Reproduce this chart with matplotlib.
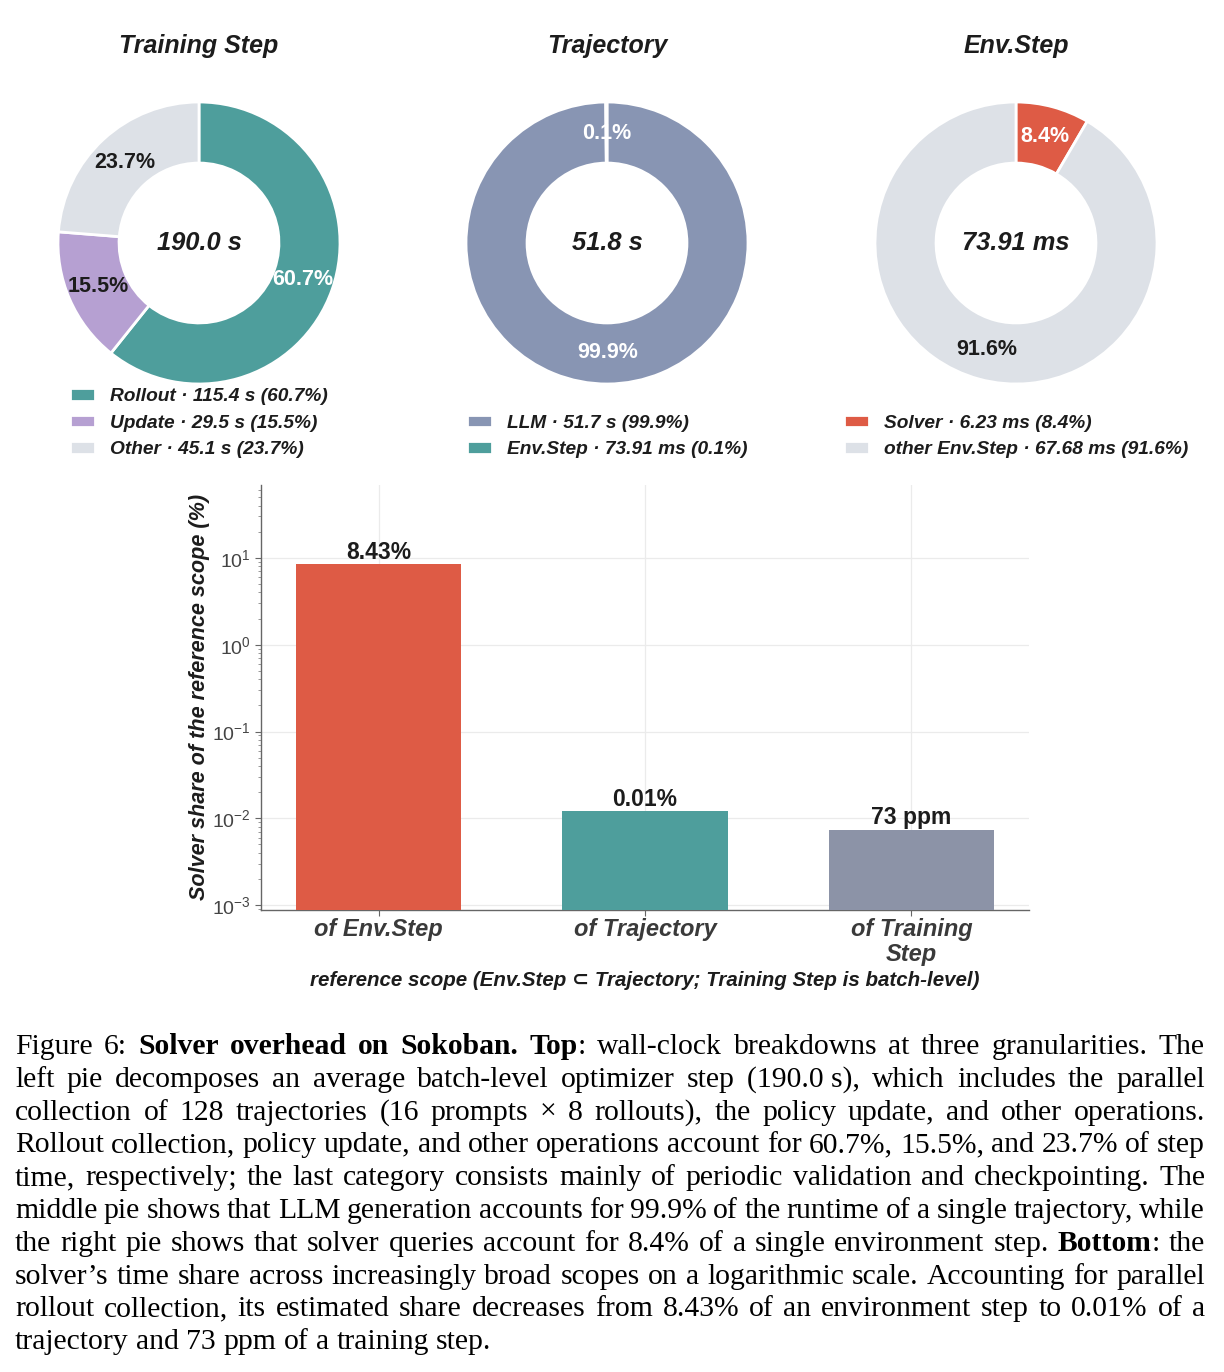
import matplotlib
matplotlib.use('Agg')
import matplotlib.pyplot as plt
import numpy as np
from matplotlib.ticker import LogLocator, NullFormatter

plt.rcParams['font.family'] = ['Liberation Sans', 'DejaVu Sans']
plt.rcParams['mathtext.fontset'] = 'custom'
plt.rcParams['mathtext.rm'] = 'Liberation Sans'
plt.rcParams['mathtext.it'] = 'Liberation Sans:italic'
plt.rcParams['mathtext.bf'] = 'Liberation Sans:bold'

# ---------------- data ----------------
pie_titles = ['Training Step', 'Trajectory', 'Env.Step']

train_labels = ['Rollout', 'Update', 'Other']
train_values = [115.4, 29.5, 45.1]          # seconds

traj_labels = ['LLM', 'Env.Step']
traj_values = [51.7, 0.07391]               # seconds

env_labels = ['Solver', 'other Env.Step']
env_values = [6.23, 67.68]                  # milliseconds

scope_labels = ['of Env.Step', 'of Trajectory', 'of Training\nStep']
solver_share = [8.43, 0.012, 0.0073]        # percent
share_text = ['8.43%', '0.01%', '73 ppm']

caption_lines = [
    "Figure 6: *Solver overhead on Sokoban.* *Top*: wall-clock breakdowns at three granularities. The",
    "left pie decomposes an average batch-level optimizer step (190.0~s), which includes the parallel",
    "collection of 128 trajectories (16 prompts × 8 rollouts), the policy update, and other operations.",
    "Rollout collection, policy update, and other operations account for 60.7%, 15.5%, and 23.7% of step",
    "time, respectively; the last category consists mainly of periodic validation and checkpointing. The",
    "middle pie shows that LLM generation accounts for 99.9% of the runtime of a single trajectory, while",
    "the right pie shows that solver queries account for 8.4% of a single environment step. *Bottom*: the",
    "solver\u2019s time share across increasingly broad scopes on a logarithmic scale. Accounting for parallel",
    "rollout collection, its estimated share decreases from 8.43% of an environment step to 0.01% of a",
    "trajectory and 73 ppm of a training step.",
]

# ---------------- styles ----------------
TEAL = '#4E9E9C'
PURPLE = '#B6A0D2'
LIGHT = '#DDE1E7'
SLATE = '#8895B3'
RED = '#DE5B45'
BARGREY = '#8C93A7'
DARK = '#1c1c1c'

W, H = 1224, 1372
fig = plt.figure(figsize=(W / 100, H / 100), dpi=100)
fig.patch.set_facecolor('white')

CY = 243
R = 141


def fmt_s(v):
    return f"{v:.1f} s" if v >= 1 else f"{v * 1000:.2f} ms"


def draw_pie(cx, title, labels, values, colors, txtcolors, center_txt, leg_labels):
    ax = fig.add_axes([(cx - R) / W, (H - (CY + R)) / H, 2 * R / W, 2 * R / H])
    wedges, texts, autotexts = ax.pie(
        values, colors=colors, startangle=90, counterclock=False,
        autopct='%1.1f%%', pctdistance=0.78, radius=1,
        wedgeprops=dict(width=0.433, edgecolor='white', linewidth=2))
    for t, c in zip(autotexts, txtcolors):
        t.set_color(c)
        t.set_fontsize(15.5)
        t.set_fontweight('bold')
    ax.set_xlim(-1.0, 1.0)
    ax.set_ylim(-1.0, 1.0)
    ax.set_aspect('equal')
    ax.text(0, 0, center_txt, ha='center', va='center', fontsize=18.4,
            fontweight='bold', fontstyle='italic', color=DARK)
    fig.text(cx / W, (H - 46) / H, title, ha='center', va='center', fontsize=18,
             fontweight='bold', fontstyle='italic', color=DARK)
    ax.legend(wedges, leg_labels, loc='lower center',
              bbox_to_anchor=(cx / W, (H - 468) / H), bbox_transform=fig.transFigure,
              frameon=False, prop=dict(weight='bold', style='italic', size=13.8),
              labelcolor=DARK, handlelength=1.3, handleheight=0.62,
              handletextpad=0.8, labelspacing=0.5, borderpad=0)
    return ax


tot = sum(train_values)
draw_pie(199, pie_titles[0], train_labels, train_values, [TEAL, PURPLE, LIGHT],
         ['white', DARK, DARK], f"{tot:.1f} s",
         [f"{l} · {v:.1f} s ({100 * v / tot:.1f}%)" for l, v in zip(train_labels, train_values)])

tot = sum(traj_values)
draw_pie(607, pie_titles[1], traj_labels, traj_values, [SLATE, TEAL],
         ['white', 'white'], f"{tot:.1f} s",
         [f"{l} · {fmt_s(v)} ({100 * v / tot:.1f}%)" for l, v in zip(traj_labels, traj_values)])

tot = sum(env_values)
draw_pie(1016, pie_titles[2], env_labels, env_values, [RED, LIGHT],
         ['white', DARK], f"{tot:.2f} ms",
         [f"{l} · {v:.2f} ms ({100 * v / tot:.1f}%)" for l, v in zip(env_labels, env_values)])

# ---------------- bar chart ----------------
L, Rr, T, B = 261, 1029, 485, 910
axb = fig.add_axes([L / W, (H - B) / H, (Rr - L) / W, (B - T) / H])
x = np.arange(len(scope_labels))
axb.bar(x, solver_share, width=0.62, color=[RED, TEAL, BARGREY], zorder=3)
axb.set_yscale('log')
axb.set_ylim(8.8e-4, 69)
axb.set_xticks(x)
axb.set_xticklabels(scope_labels, fontsize=17, fontweight='bold', fontstyle='italic',
                    color='#3a3a3a', linespacing=1.12)
axb.yaxis.set_major_locator(LogLocator(base=10, numticks=10))
axb.yaxis.set_minor_locator(LogLocator(base=10, subs=np.arange(2, 10), numticks=20))
axb.yaxis.set_minor_formatter(NullFormatter())
axb.tick_params(axis='y', which='major', labelsize=14, labelcolor='#444444',
                color='#666666', length=4, width=0.8)
axb.tick_params(axis='y', which='minor', color='#888888', length=2, width=0.6)
axb.tick_params(axis='x', which='major', color='#666666', length=4, width=0.8, pad=2)
axb.grid(True, which='major', color='#ebebeb', linewidth=0.9, zorder=0)
axb.set_axisbelow(True)
for s in ['top', 'right']:
    axb.spines[s].set_visible(False)
for s in ['left', 'bottom']:
    axb.spines[s].set_color('#666666')
    axb.spines[s].set_linewidth(1.0)
for xi, v, t in zip(x, solver_share, share_text):
    axb.text(xi, v * 1.02, t, ha='center', va='bottom', fontsize=16.5,
             fontweight='bold', color=DARK)

fig.text(200 / W, (H - 697) / H, 'Solver share of the reference scope (%)', rotation=90,
         ha='center', va='center', fontsize=15.6, fontweight='bold', fontstyle='italic',
         color=DARK)
fig.text(645 / W, (H - 981) / H,
         'reference scope (Env.Step \u2282 Trajectory; Training Step is batch-level)',
         ha='center', va='center', fontsize=14.8, fontweight='bold', fontstyle='italic',
         color=DARK)

# ---------------- caption (justified) ----------------
CAP_FS = 21.3
CAP_FAM = 'Liberation Serif'
renderer = fig.canvas.get_renderer()


def measure(s, bold):
    t = fig.text(0, 0, s, fontsize=CAP_FS, family=CAP_FAM,
                 fontweight='bold' if bold else 'normal')
    w = t.get_window_extent(renderer).width
    t.remove()
    return w


def parse(line, bold):
    words = []
    for tok in line.split(' '):
        runs, cur = [], ''
        for ch in tok:
            if ch == '*':
                if cur:
                    runs.append((cur.replace('~', ' '), bold))
                    cur = ''
                bold = not bold
            else:
                cur += ch
        if cur:
            runs.append((cur.replace('~', ' '), bold))
        words.append(runs)
    return words, bold


space_w = measure('a a', False) - measure('aa', False)
left, right = 15, 1205
base0, step = 1054, 32.8
bold = False
for i, line in enumerate(caption_lines):
    words, bold = parse(line, bold)
    widths = [[measure(t, b) for t, b in runs] for runs in words]
    total = sum(sum(w) for w in widths)
    last = (i == len(caption_lines) - 1)
    gap = space_w if last else (right - left - total) / (len(words) - 1)
    xp = left
    y = (H - (base0 + i * step)) / H
    for runs, ws in zip(words, widths):
        for (t, b), w in zip(runs, ws):
            fig.text(xp / W, y, t, fontsize=CAP_FS, family=CAP_FAM,
                     fontweight='bold' if b else 'normal', va='baseline', ha='left',
                     color='black')
            xp += w
        xp += gap

fig.savefig('out.png', dpi=100, facecolor='white')
